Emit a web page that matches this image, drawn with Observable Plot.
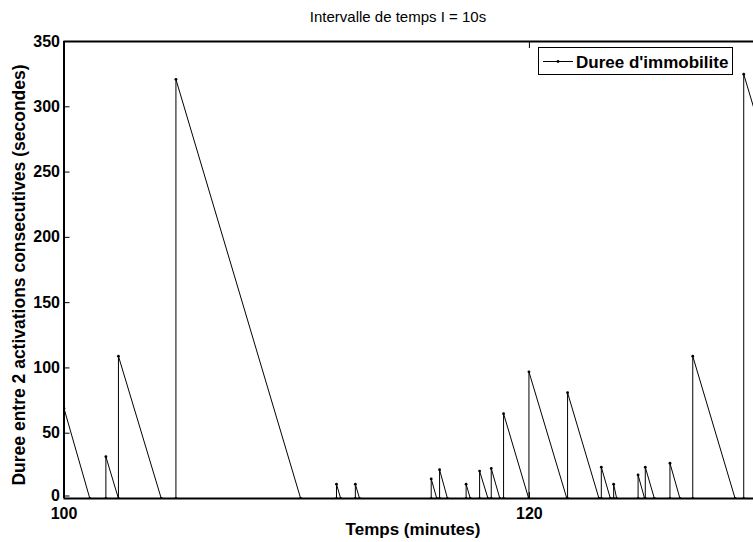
<!DOCTYPE html>
<html><head><meta charset="utf-8">
<script src="https://cdn.jsdelivr.net/npm/d3@7"></script>
<script src="https://cdn.jsdelivr.net/npm/@observablehq/plot@0.6"></script>
<style>
body{margin:0;background:#fff;}
#wrap{position:relative;width:753px;height:542px;overflow:hidden;}
</style></head><body><div id="wrap"></div>
<script>
// Vertices of the "Duree d'immobilite" series (time in minutes, duration in seconds)
const times = [100, 101.11, 101.80, 101.80, 102.34, 102.34, 104.18, 104.81, 104.81, 110.17,
  111.71, 111.71, 111.89, 112.52, 112.52, 112.70, 115.78, 115.78, 116.02, 116.14, 116.14, 116.48,
  117.28, 117.28, 117.46, 117.86, 117.86, 118.22, 118.36, 118.36, 118.73, 118.89, 118.89, 119.97,
  119.98, 119.98, 121.61, 121.64, 121.64, 122.99, 123.09, 123.09, 123.48, 123.62, 123.62, 123.75,
  124.67, 124.67, 124.95, 124.98, 124.98, 125.37, 126.04, 126.04, 126.47, 127.02, 127.02, 128.84,
  129.21, 129.21, 134.63];
const durations = [69, 0, 0, 32, 0, 109, 0, 0, 321, 0,
  0, 11, 0, 0, 11, 0, 0, 15, 0, 0, 22, 0,
  0, 11, 0, 0, 21, 0, 0, 23, 0, 0, 65, 0,
  0, 97, 0, 0, 81, 0, 0, 24, 0, 0, 11, 0,
  0, 18, 0, 0, 24, 0, 0, 27, 0, 0, 109, 0,
  0, 325, 0];
const xTicks = [100, 120, 140];
const yTicks = [0, 50, 100, 150, 200, 250, 300, 350];
const titleText = "Intervalle de temps I = 10s";
const xLabel = "Temps (minutes)";
const yLabel = "Duree entre 2 activations consecutives (secondes)";
const legendLabel = "Duree d'immobilite";

const data = times.map((t, i) => ({t, v: durations[i]}));
const FONT = '"Liberation Sans", Arial, Helvetica, sans-serif';
const xMax = 129.63;

const chart = Plot.plot({
  width: 753, height: 542,
  marginLeft: 63.5, marginRight: 0, marginTop: 41, marginBottom: 44,
  x: {domain: [100, xMax]},
  y: {domain: [0, 350]},
  style: {fontFamily: FONT, fontWeight: "bold", fontSize: "16px", background: "white", color: "black"},
  marks: [
    Plot.line(data, {x: "t", y: "v", stroke: "black", strokeWidth: 1, clip: true}),
    Plot.dot(data, {x: "t", y: "v", r: 1.4, fill: "black", stroke: "none", clip: true}),
    Plot.ruleY([0], {stroke: "black", strokeWidth: 2}),
    Plot.ruleY([350], {stroke: "black", strokeWidth: 2}),
    Plot.ruleX([100], {stroke: "black", strokeWidth: 2}),
    Plot.axisX({ticks: xTicks.filter(d => d <= xMax), tickSize: -6, tickPadding: 15.5, label: null, fontSize: 16, fontWeight: "bold"}),
    Plot.axisX({anchor: "top", ticks: xTicks.filter(d => d <= xMax), tickSize: -6, tickFormat: () => "", label: null}),
    Plot.axisY({ticks: yTicks.filter(d => d !== 0), tickSize: -6, tickPadding: 10, label: null, fontSize: 16, fontWeight: "bold"}),
    Plot.axisY({ticks: [0], tickSize: -6, tickPadding: 10, label: null, fontSize: 16, fontWeight: "bold", dy: -2.5})
  ]
});

const svg = d3.select(chart);
svg.append("text").attr("x", 398).attr("y", 22).attr("text-anchor", "middle")
  .style("font", `normal 15px ${FONT}`).attr("fill", "black").text(titleText);
svg.append("text").attr("x", 413).attr("y", 535).attr("text-anchor", "middle")
  .style("font", `bold 17px ${FONT}`).attr("fill", "black").text(xLabel);
svg.append("text").attr("transform", "translate(25,275) rotate(-90)").attr("text-anchor", "middle")
  .style("font", `bold 17.5px ${FONT}`).attr("fill", "black").text(yLabel);

// legend box
const lg = svg.append("g");
lg.append("rect").attr("x", 538.5).attr("y", 47.5).attr("width", 194).attr("height", 27)
  .attr("fill", "white").attr("stroke", "black").attr("stroke-width", 1);
lg.append("line").attr("x1", 543).attr("x2", 573).attr("y1", 61.5).attr("y2", 61.5)
  .attr("stroke", "black").attr("stroke-width", 1);
lg.append("circle").attr("cx", 558).attr("cy", 61.5).attr("r", 1.4).attr("fill", "black");
lg.append("text").attr("x", 576).attr("y", 67.5).attr("text-anchor", "start")
  .style("font", `bold 17px ${FONT}`).attr("fill", "black").text(legendLabel);

document.getElementById("wrap").appendChild(chart);
</script></body></html>
